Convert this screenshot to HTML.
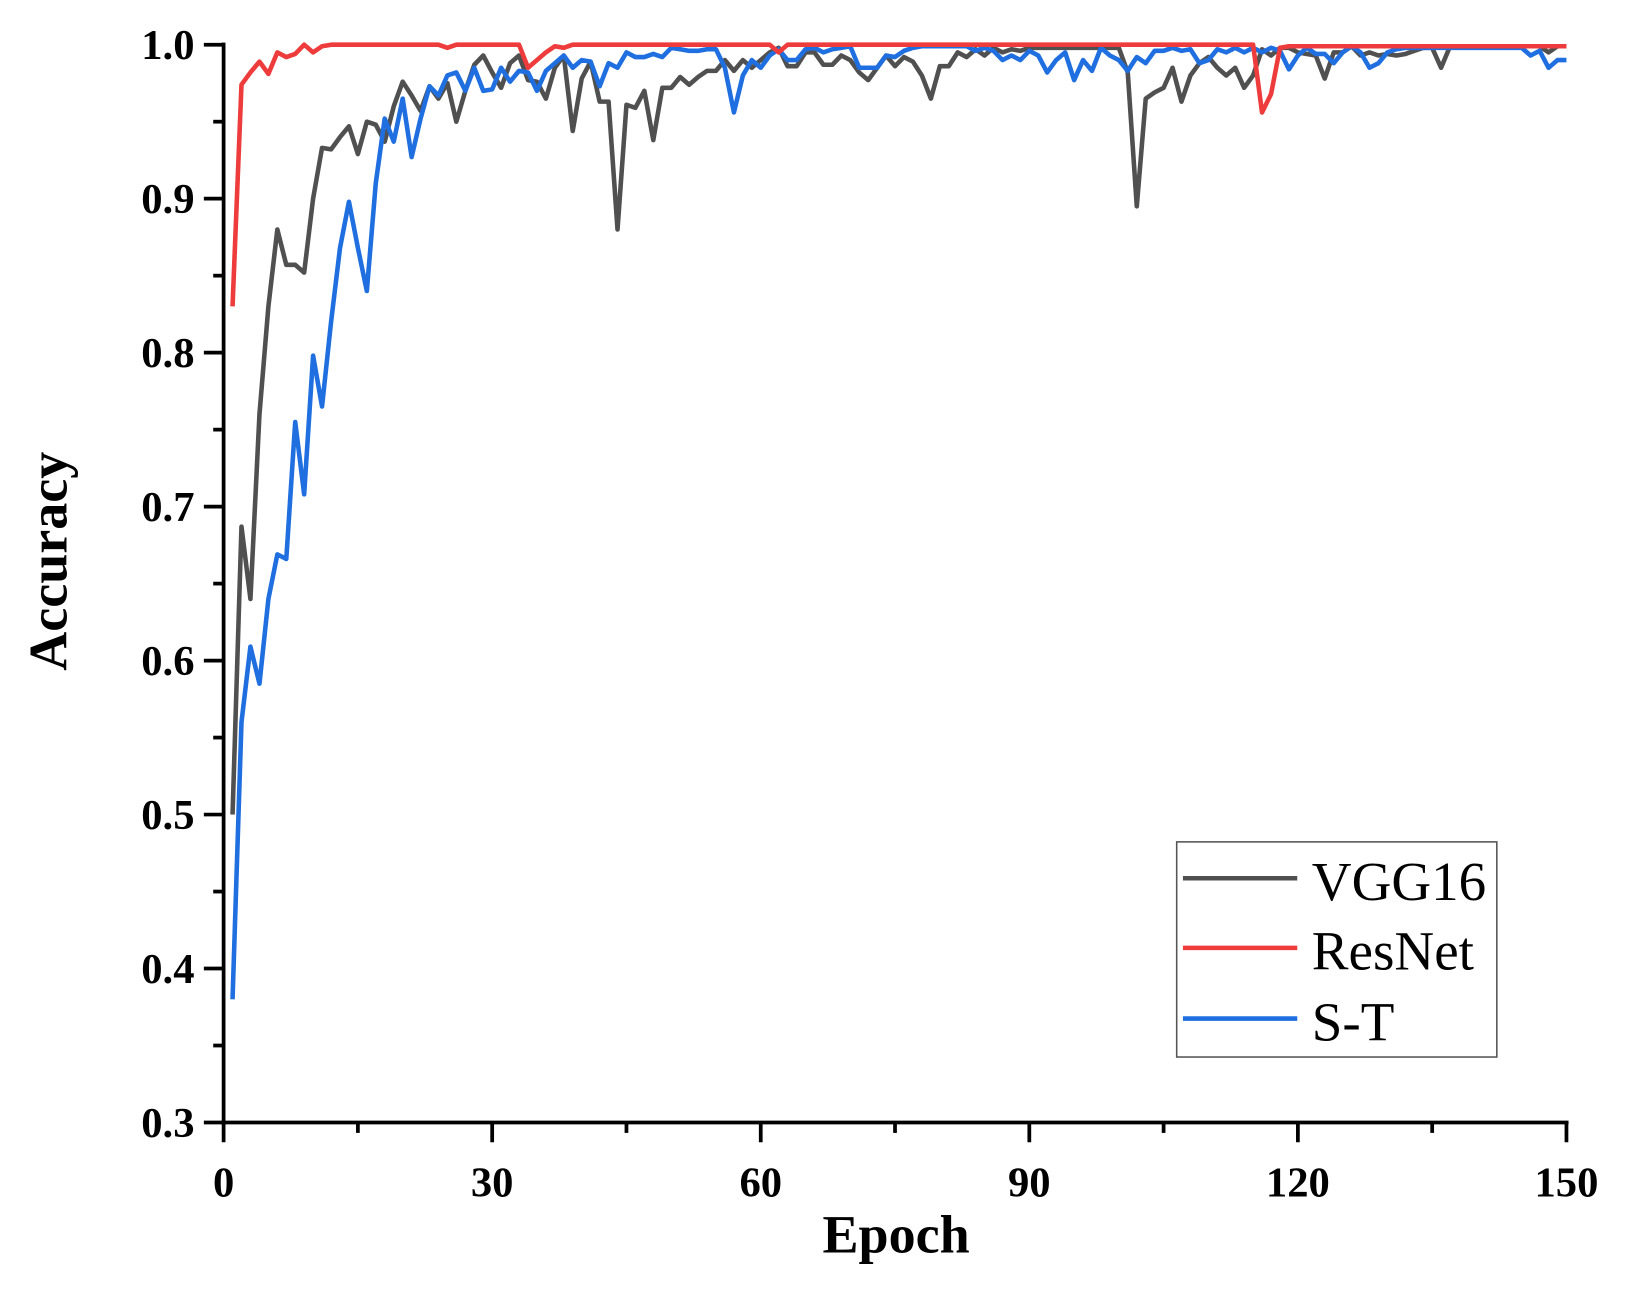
<!DOCTYPE html>
<html><head><meta charset="utf-8"><style>
html,body{margin:0;padding:0;background:#fff;}
svg{display:block;}
text{font-family:"Liberation Serif",serif;}
</style></head><body>
<svg id="s" width="1630" height="1294" viewBox="0 0 1568 1245" xmlns="http://www.w3.org/2000/svg">
<g id="series" fill="none" stroke-width="4.4" stroke-linejoin="round"></g>
<g id="axes" stroke="#000" stroke-width="3.6" fill="none"></g>
<g id="labels" font-weight="bold" font-size="41" fill="#000"></g>
<text x="862" y="1205" font-size="52" font-weight="bold" text-anchor="middle">Epoch</text>
<text transform="translate(64,540) rotate(-90)" font-size="52" font-weight="bold" text-anchor="middle">Accuracy</text>
<rect x="1132" y="810" width="308" height="207" fill="#fff" stroke="#555" stroke-width="1.5"/>
<line x1="1138" y1="845" x2="1248" y2="845" stroke="#505050" stroke-width="4.4"/>
<line x1="1138" y1="912" x2="1248" y2="912" stroke="#ee3b3b" stroke-width="4.4"/>
<line x1="1138" y1="980" x2="1248" y2="980" stroke="#1f6fe0" stroke-width="4.4"/>
<text x="1262" y="866" font-size="53">VGG16</text>
<text x="1262" y="933" font-size="53">ResNet</text>
<text x="1262" y="1001" font-size="53">S-T</text>
</svg>
<script>
var X0=215,XS=(1507-215)/150,Y1=43,YS=(1080-43)/0.7;
function px(e){return X0+e*XS}function py(a){return Y1+(1-a)*YS}
function interp(pts){var o=[];var k=Object.keys(pts).map(Number).sort(function(a,b){return a-b});
for(var i=0;i<k.length-1;i++){var a=k[i],b=k[i+1];for(var e=a;e<b;e++){o.push([e,pts[a]+(pts[b]-pts[a])*(e-a)/(b-a)]);}}
o.push([k[k.length-1],pts[k[k.length-1]]]);return o;}
function arr(list){var p={};for(var i=0;i<list.length;i+=2)p[list[i]]=list[i+1];return p;}
var vgg=arr([1,.50,2,.687,3,.64,4,.76,5,.83,6,.88,7,.857,8,.857,9,.852,10,.90,11,.933,12,.932,13,.94,14,.947,15,.929,16,.95,17,.948,18,.937,19,.96,20,.976,21,.967,22,.957,23,.973,24,.965,25,.975,26,.95,27,.97,28,.987,29,.993,30,.982,31,.972,32,.988,33,.993,34,.977,35,.976,36,.965,37,.985,38,.993,39,.944,40,.978,41,.989,42,.963,43,.963,44,.88,45,.961,46,.959,47,.97,48,.938,49,.972,50,.972,51,.979,52,.974,53,.979,54,.983,55,.983,56,.99,57,.983,58,.99,59,.985,60,.99,61,.995,62,.998,63,.986,64,.986,65,.995,66,.995,67,.987,68,.987,69,.993,70,.99,71,.982,72,.977,73,.985,74,.993,75,.986,76,.992,77,.989,78,.98,79,.965,80,.986,81,.986,82,.995,83,.992,84,.997,85,.993,86,.998,87,.995,88,.997,89,.996,90,.998,100,.998,101,.982,102,.895,103,.965,104,.969,105,.972,106,.985,107,.963,108,.98,109,.988,110,.992,111,.985,112,.98,113,.985,114,.972,115,.98,116,.997,117,.993,118,.998,119,.998,120,.995,121,.994,122,.993,123,.978,124,.995,125,.995,126,.999,127,.993,128,.995,129,.993,130,.994,131,.993,132,.994,133,.996,134,.998,135,.998,136,.985,137,.999,147,.999,148,.995,149,.999,150,.999]);
var res=arr([1,.83,2,.974,3,.982,4,.989,5,.981,6,.995,7,.992,8,.994,9,1,10,.995,11,.999,12,1,24,1,25,.998,26,1,33,1,34,.985,35,.99,36,.995,37,.999,38,.998,39,1,61,1,62,.995,63,1,115,1,116,.956,117,.968,118,.998,119,.999,150,.999]);
var st=arr([1,.38,2,.56,3,.609,4,.585,5,.64,6,.669,7,.666,8,.755,9,.708,10,.798,11,.765,12,.82,13,.868,14,.898,15,.868,16,.84,17,.91,18,.952,19,.937,20,.965,21,.927,22,.952,23,.973,24,.967,25,.98,26,.982,27,.97,28,.985,29,.97,30,.971,31,.985,32,.976,33,.983,34,.982,35,.97,36,.983,37,.988,38,.993,39,.985,40,.99,41,.989,42,.973,43,.988,44,.985,45,.995,46,.992,47,.992,48,.994,49,.992,50,.998,51,.997,52,.996,53,.996,54,.997,55,.997,56,.985,57,.956,58,.98,59,.99,60,.985,61,.993,62,.997,63,.99,64,.99,65,.997,66,.998,67,.995,68,.997,69,.998,70,.999,71,.985,72,.985,73,.985,74,.993,75,.992,76,.996,77,.998,78,.999,83,.999,84,.996,85,.998,86,.996,87,.99,88,.993,89,.99,90,.996,91,.993,92,.982,93,.99,94,.995,95,.977,96,.99,97,.983,98,.998,99,.993,100,.99,101,.983,102,.992,103,.988,104,.996,105,.996,106,.998,107,.996,108,.997,109,.988,110,.99,111,.997,112,.995,113,.998,114,.995,115,.998,116,.995,117,.998,118,.996,119,.984,120,.993,121,.998,122,.994,123,.994,124,.988,125,.995,126,.999,127,.995,128,.985,129,.988,130,.995,131,.997,132,.998,145,.998,146,.993,147,.996,148,.985,149,.99,150,.99]);
var NS="http://www.w3.org/2000/svg";
function poly(d,c){var p=document.createElementNS(NS,"polyline");p.setAttribute("points",interp(d).map(function(q){return px(q[0]).toFixed(1)+","+py(q[1]).toFixed(1)}).join(" "));p.setAttribute("stroke",c);document.getElementById("series").appendChild(p);}
poly(vgg,"#505050");poly(st,"#1f6fe0");poly(res,"#ee3b3b");
var ax=document.getElementById("axes"),lb=document.getElementById("labels");
function ln(a,b,c,d){var l=document.createElementNS(NS,"line");l.setAttribute("x1",a);l.setAttribute("y1",b);l.setAttribute("x2",c);l.setAttribute("y2",d);ax.appendChild(l);}
function tx(x,y,s,anc){var t=document.createElementNS(NS,"text");t.setAttribute("x",x);t.setAttribute("y",y);t.setAttribute("text-anchor",anc);t.textContent=s;lb.appendChild(t);}
ln(X0,Y1-2,X0,1082);ln(X0-2,1080,1509,1080);
for(var i=0;i<=14;i++){var v=0.3+i*0.05,y=py(v);var maj=i%2==0;ln(X0,y,X0-(maj?19:10),y);if(maj)tx(X0-28,y+14,v.toFixed(1),"end");}
for(var e=0;e<=150;e+=15){var x=px(e);var maj=e%30==0;ln(x,1080,x,1080+(maj?19:10));if(maj)tx(x,1151,String(e),"middle");}
</script>
</body></html>
